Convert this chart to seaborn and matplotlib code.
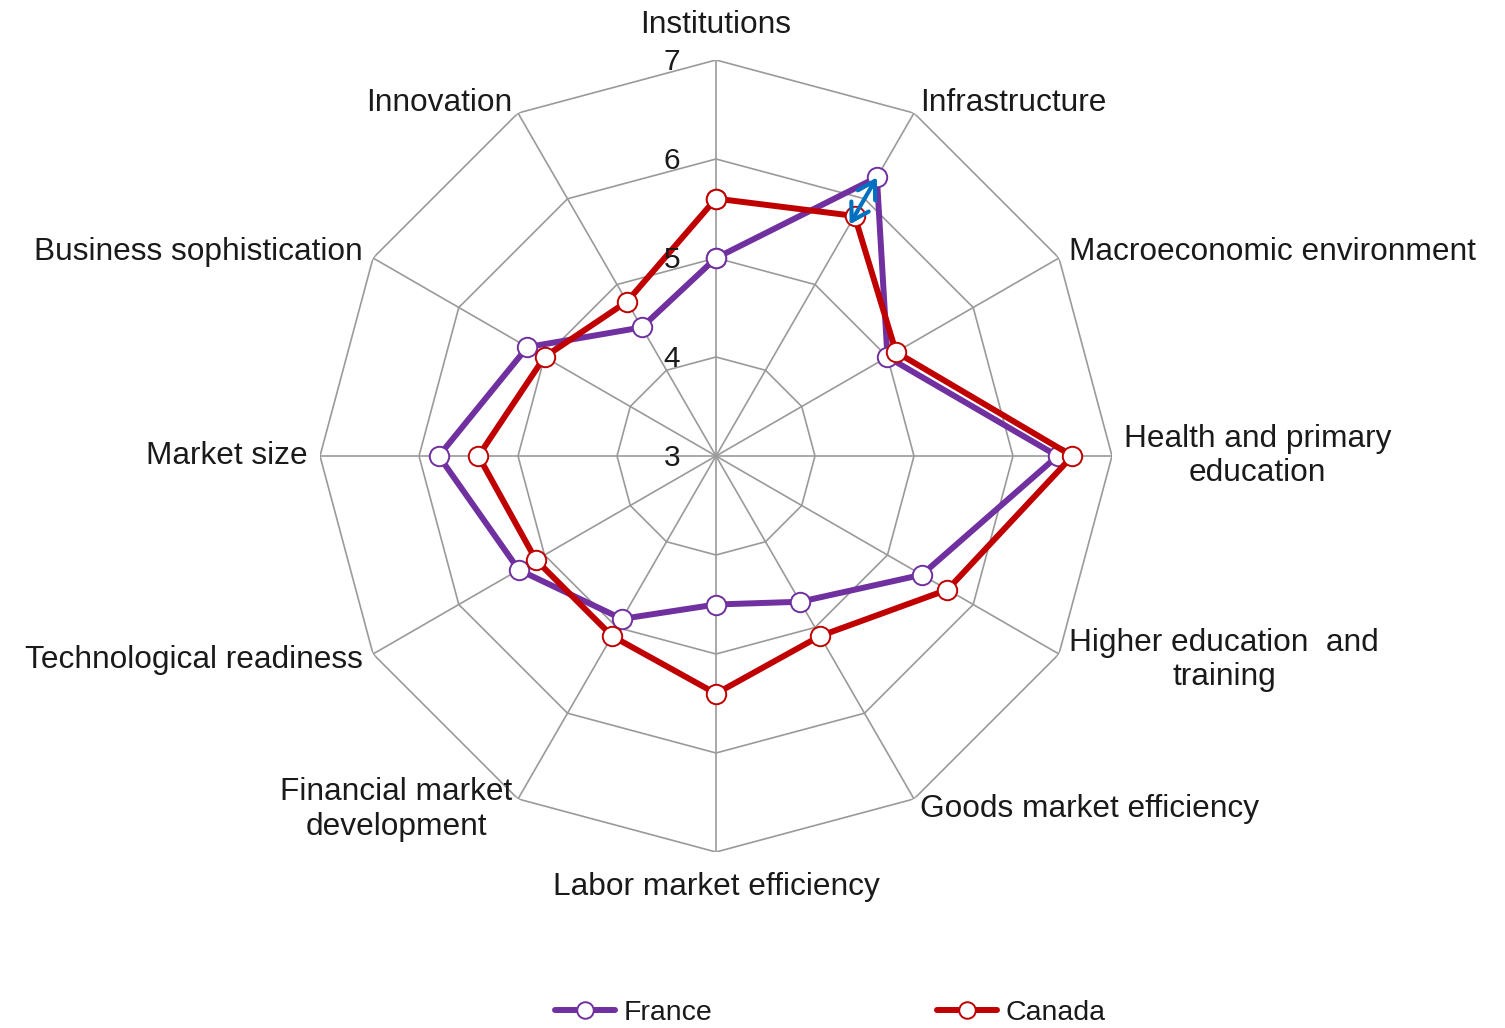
import numpy as np
import pandas as pd
import seaborn as sns
import matplotlib
matplotlib.use("Agg")
import matplotlib.pyplot as plt
from matplotlib.transforms import offset_copy

PILLARS = ["Institutions", "Infrastructure", "Macroeconomic environment",
           "Health and primary\neducation", "Higher education  and\ntraining",
           "Goods market efficiency", "Labor market efficiency",
           "Financial market\ndevelopment", "Technological readiness",
           "Market size", "Business sophistication", "Innovation"]
FRANCE = [5.0, 6.25, 5.0, 6.45, 5.4, 4.7, 4.5, 4.9, 5.3, 5.8, 5.2, 4.5]
CANADA = [5.6, 5.8, 5.1, 6.6, 5.7, 5.1, 5.4, 5.1, 5.1, 5.4, 5.0, 4.8]
COUNTRIES = ["France", "Canada"]
RINGS = [3, 4, 5, 6, 7]
COLORS = {"France": "#7030A0", "Canada": "#C00000"}
GRID = "#9a9a9a"
TEXT = "#1a1a1a"

sns.set_theme(style="white")
plt.rcParams["font.family"] = ["Liberation Sans", "DejaVu Sans"]

angles = np.linspace(0, 2 * np.pi, len(PILLARS) + 1)

rows = []
for name, vals in zip(COUNTRIES, [FRANCE, CANADA]):
    for a, v in zip(angles, vals + vals[:1]):
        rows.append({"country": name, "angle": a, "score": v})
df = pd.DataFrame(rows)

fig = plt.figure(figsize=(15.05, 10.28), dpi=100)
ax = fig.add_axes([320 / 1505, 176 / 1028, 792 / 1505, 792 / 1028], polar=True)
ax.set_theta_zero_location("N")
ax.set_theta_direction(-1)
ax.set_ylim(RINGS[0], RINGS[-1])
ax.spines["polar"].set_visible(False)
ax.yaxis.grid(False)
ax.set_yticks([])
ax.set_xticks(angles[:-1])
ax.set_xticklabels([])
ax.xaxis.grid(True, color=GRID, lw=1.2)

# polygon rings
for r in RINGS[1:]:
    ax.plot(angles, [r] * len(angles), color=GRID, lw=1.2, zorder=1)

sns.lineplot(data=df, x="angle", y="score", hue="country", hue_order=COUNTRIES,
             palette=COLORS, sort=False, estimator=None, marker="o",
             markersize=14, markerfacecolor="white", linewidth=4.3,
             legend=False, ax=ax, zorder=3)
series = ax.lines[-2:]
for ln in series:
    ln.set_markeredgecolor(ln.get_color())
    ln.set_markeredgewidth(1.4)
ax.set_xlabel("")
ax.set_ylabel("")

# gap marker on infrastructure
ax.annotate("", xy=(angles[1], CANADA[1] - 0.1), xytext=(angles[1], FRANCE[1]),
            arrowprops=dict(arrowstyle="<->,head_length=0.5,head_width=0.3",
                            color="#0070C0", lw=3, shrinkA=0, shrinkB=0,
                            mutation_scale=24), zorder=5)

# pillar labels
for a, lab in zip(angles[:-1], PILLARS):
    s, c = np.sin(a), np.cos(a)
    ha = "left" if s > 0.1 else ("right" if s < -0.1 else "center")
    if c > 0.9:
        va, r = "bottom", 7.2
    elif c < -0.9:
        va, r = "top", 7.2
    else:
        va, r = "center", 7.12
    ax.text(a, r, lab, ha=ha, va=va, multialignment="center",
            fontsize=22.8, color=TEXT, linespacing=1.2)

# radial tick labels
shift = offset_copy(ax.transData, fig=fig, x=-44, y=-2, units="dots")
for r in RINGS:
    ax.text(0, r, str(r), transform=shift, ha="center", va="center",
            fontsize=21.5, color=TEXT, zorder=4)

fig.legend(series, COUNTRIES, loc="center", bbox_to_anchor=(830 / 1505, 1 - 1013 / 1028),
           ncol=2, frameon=False, fontsize=20.5, handlelength=2.1, handletextpad=0.3,
           columnspacing=7.9, markerscale=0.85, labelcolor=TEXT)

fig.savefig("out.png", dpi=100, facecolor="white")
